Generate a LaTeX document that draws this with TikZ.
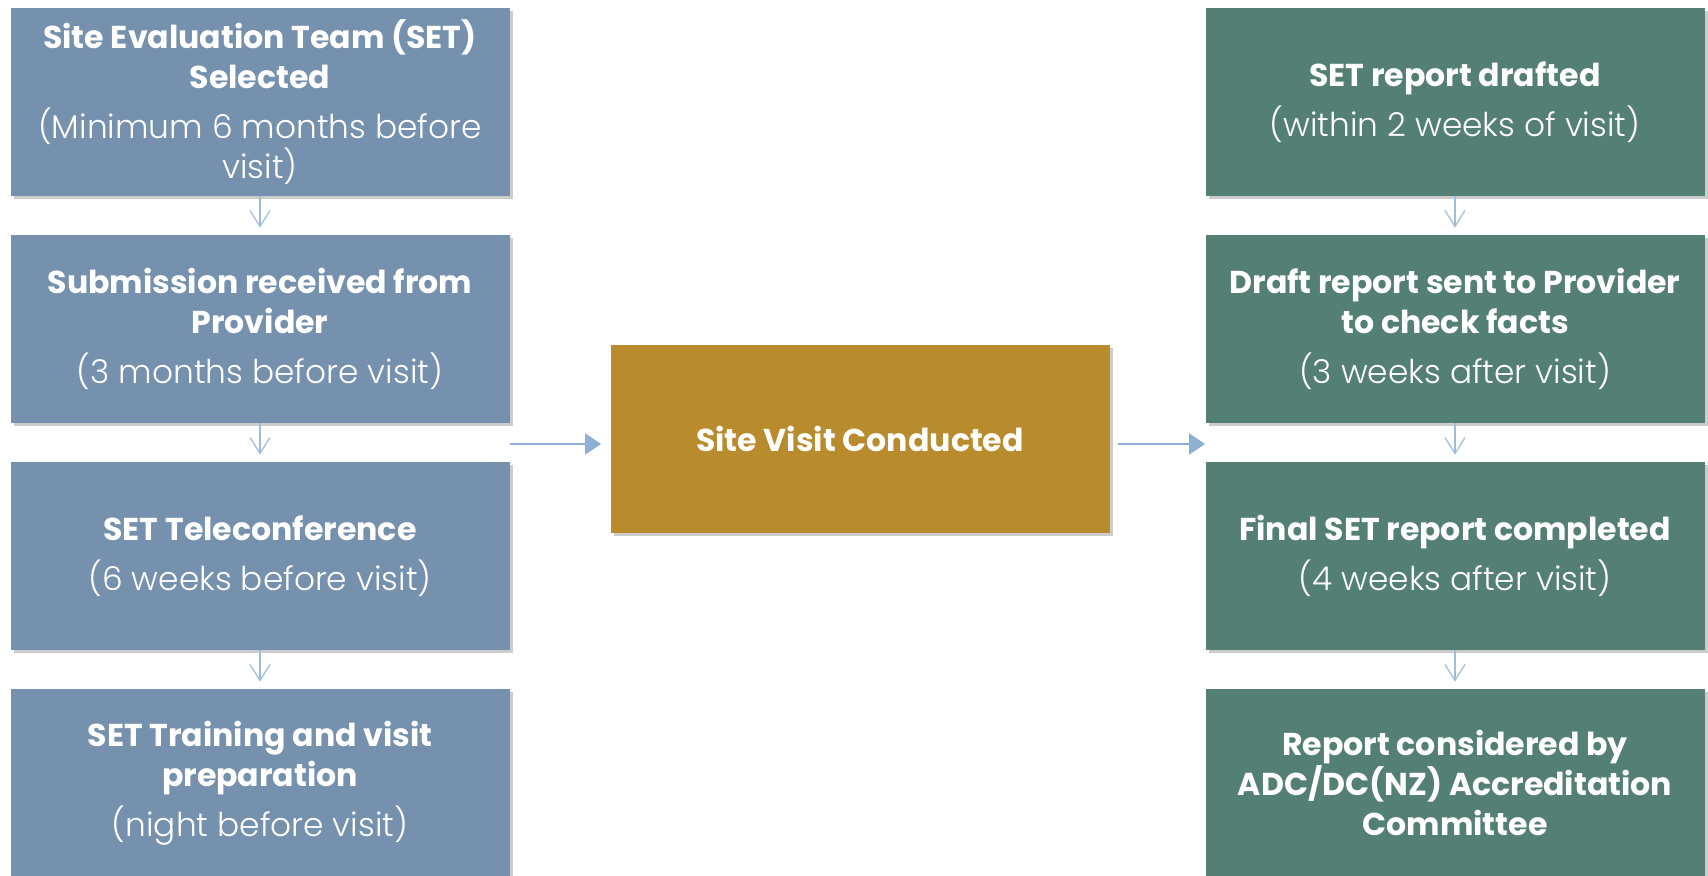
\documentclass[tikz,border=0pt]{standalone}
\usepackage{fontspec}
\setmainfont{Poppins}
\newfontfamily\lightfont{Poppins Light}
\usetikzlibrary{arrows.meta,shadows}
\definecolor{setblue}{RGB}{117,145,173}
\definecolor{visitgold}{RGB}{184,139,44}
\definecolor{reportgreen}{RGB}{84,127,117}
\definecolor{flowblue}{RGB}{141,177,211}
\newcommand{\when}[1]{{\lightfont\fontsize{16.4}{20}\selectfont #1}}
\begin{document}
\begin{tikzpicture}[x=0.5pt,y=-0.5pt,
    stage/.style={minimum width=249.5pt, minimum height=94pt, inner sep=0pt, align=center, text=white,
      font=\fontsize{15.8}{20}\selectfont,
      drop shadow={shadow xshift=1.5pt, shadow yshift=-1.5pt, opacity=0.4}},
    down/.style={draw=flowblue!85!white, line width=0.6pt, -{Straight Barb[length=8pt,width=10pt]}, shorten >=3.5pt},
    across/.style={draw=flowblue, line width=1pt, -{Triangle[length=8pt,width=10.5pt]}}]
  \fill[white] (0,0) rectangle (1708,876);
  \useasboundingbox (0,0) rectangle (1708,876);
  % before the visit
  \node[stage, fill=setblue] (s1) at (260,102) {\textbf{Site Evaluation Team (SET)}\\\textbf{Selected}\\[5pt]\when{(Minimum 6 months before}\\\when{visit)}};
  \node[stage, fill=setblue] (s2) at (260,329) {\textbf{Submission received from}\\\textbf{Provider}\\[5pt]\when{(3 months before visit)}};
  \node[stage, fill=setblue] (s3) at (260,556) {\textbf{SET Teleconference}\\[5pt]\when{(6 weeks before visit)}};
  \node[stage, fill=setblue] (s4) at (260,783) {\textbf{SET Training and visit}\\\textbf{preparation}\\[5pt]\when{(night before visit)}};
  % the visit
  \node[stage, fill=visitgold] (centre) at (860,439) {\textbf{Site Visit Conducted}};
  % after the visit
  \node[stage, fill=reportgreen] (r1) at (1455,102) {\textbf{SET report drafted}\\[5pt]\when{(within 2 weeks of visit)}};
  \node[stage, fill=reportgreen] (r2) at (1455,329) {\textbf{Draft report sent to Provider}\\\textbf{to check facts}\\[5pt]\when{(3 weeks after visit)}};
  \node[stage, fill=reportgreen] (r3) at (1455,556) {\textbf{Final SET report completed}\\[5pt]\when{(4 weeks after visit)}};
  \node[stage, fill=reportgreen] (r4) at (1455,783) {\textbf{Report considered by}\\\textbf{ADC/DC(NZ) Accreditation}\\\textbf{Committee}};

  \foreach \a/\b in {s1/s2, s2/s3, s3/s4, r1/r2, r2/r3, r3/r4} { \draw[down] (\a) -- (\b); }
  \draw[across] ([yshift=-2.5pt]centre.west -| s1.east) -- ([xshift=-4.5pt,yshift=-2.5pt]centre.west);
  \draw[across] ([xshift=4pt,yshift=-2.5pt]centre.east) -- ([yshift=-2.5pt]centre.east -| r2.west);
\end{tikzpicture}
\end{document}
